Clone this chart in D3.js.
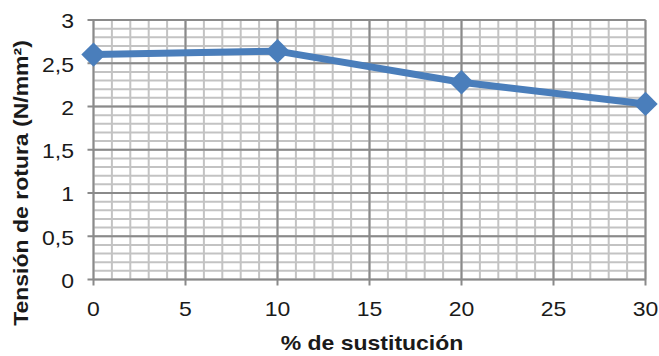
<!DOCTYPE html>
<html>
<head>
<meta charset="utf-8">
<script src="https://cdn.jsdelivr.net/npm/d3@7"></script>
<style>
  html, body { margin: 0; padding: 0; background: #fff; }
  svg { display: block; font-family: "Liberation Sans", Arial, sans-serif; }
</style>
</head>
<body>
<svg id="chart" width="659" height="356"></svg>
<script>
// Breaking stress versus substitution percentage
const sustitucion = [0, 10, 20, 30];
const tension = [2.6, 2.64, 2.28, 2.03];
const xTicks = [0, 5, 10, 15, 20, 25, 30];
const yTicks = [0, 0.5, 1, 1.5, 2, 2.5, 3];
const xTitle = "% de sustitución";
const yTitle = "Tensión de rotura (N/mm²)";

const svg = d3.select("#chart");
const plotL = 93.5, plotR = 645.5, plotT = 20, plotB = 279.5;
const textColor = "#1a1a1a";
const stretch = 1.15; // slightly wide lettering

const x = d3.scaleLinear().domain([0, 30]).range([plotL, plotR]);
const y = d3.scaleLinear().domain([0, 3]).range([plotB, plotT]);
const fmt = d => String(d).replace(".", ",");

const minorX = d3.range(0, 31, 1);
const minorY = d3.range(0, 31, 1).map(v => v / 10);

const grid = svg.append("g");
// minor grid
grid.selectAll(".mx").data(minorX).join("line")
  .attr("x1", d => x(d)).attr("x2", d => x(d))
  .attr("y1", plotT).attr("y2", plotB)
  .attr("stroke", "#c3c3c3").attr("stroke-width", 2);
grid.selectAll(".my").data(minorY).join("line")
  .attr("y1", d => y(d)).attr("y2", d => y(d))
  .attr("x1", plotL).attr("x2", plotR)
  .attr("stroke", "#c3c3c3").attr("stroke-width", 2);
// major grid with outside tick marks
grid.selectAll(".Mx").data(xTicks).join("line")
  .attr("x1", d => x(d)).attr("x2", d => x(d))
  .attr("y1", plotT).attr("y2", plotB + 6)
  .attr("stroke", "#8a8a8a").attr("stroke-width", 2);
grid.selectAll(".My").data(yTicks).join("line")
  .attr("y1", d => y(d)).attr("y2", d => y(d))
  .attr("x1", plotL - 6).attr("x2", plotR)
  .attr("stroke", "#8a8a8a").attr("stroke-width", 2);

// tick labels
svg.append("g").selectAll("text").data(xTicks).join("text")
  .attr("transform", d => `translate(${x(d)},${plotB + 36}) scale(${stretch},1)`)
  .attr("text-anchor", "middle").attr("font-size", 20).attr("fill", textColor)
  .text(fmt);
svg.append("g").selectAll("text").data(yTicks).join("text")
  .attr("transform", d => `translate(74,${y(d)}) scale(${stretch},1)`)
  .attr("dy", "0.42em")
  .attr("text-anchor", "end").attr("font-size", 20).attr("fill", textColor)
  .text(fmt);

// series line
const line = d3.line().x((d, i) => x(sustitucion[i])).y(d => y(d));
svg.append("path").datum(tension)
  .attr("d", line).attr("fill", "none")
  .attr("stroke", "#4a7ebb").attr("stroke-width", 7).attr("stroke-linejoin", "round");

// diamond markers
const diamond = d3.symbol().type(d3.symbolDiamond2).size(380);
svg.selectAll(".pt").data(tension).join("path")
  .attr("d", diamond)
  .attr("transform", (d, i) => `translate(${x(sustitucion[i])},${y(d)})`)
  .attr("fill", "#4a7ebb");

// titles
svg.append("text").text(xTitle)
  .attr("transform", `translate(372,350) scale(${stretch},1)`)
  .attr("text-anchor", "middle").attr("font-size", 20).attr("font-weight", "bold").attr("fill", textColor);
svg.append("text").text(yTitle)
  .attr("transform", `translate(28,183) rotate(-90) scale(${stretch},1)`)
  .attr("text-anchor", "middle").attr("font-size", 20).attr("font-weight", "bold").attr("fill", textColor);
</script>
</body>
</html>
